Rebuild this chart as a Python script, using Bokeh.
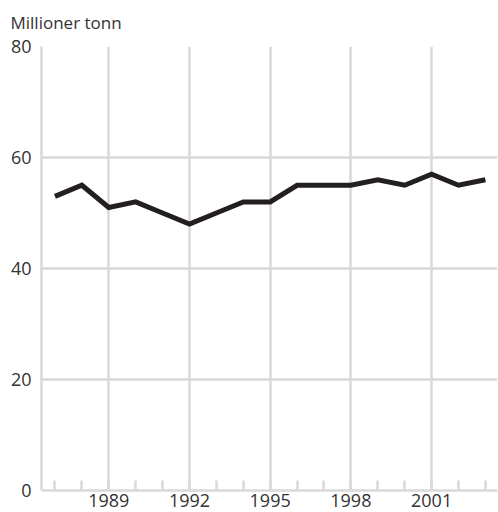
from bokeh.plotting import figure
from bokeh.models import FixedTicker, Range1d
from bokeh.embed import file_html
from bokeh.resources import INLINE

# ---- data ----
years = list(range(1987, 2004))
values = [53, 55, 51, 52, 50, 48, 50, 52, 52, 55, 55, 55, 56, 55, 57, 55, 56]
x_tick_years = [1989, 1992, 1995, 1998, 2001]
x_tick_labels = ["1989", "1992", "1995", "1998", "2001"]
y_ticks = [0, 20, 40, 60, 80]
y_title = "Millioner tonn"

GRID = "#d9d9d9"
TEXT = "#333333"
FONT = "Open Sans"

p = figure(width=498, height=512, output_backend="svg", toolbar_location=None,
           x_range=Range1d(1986.5, 2003.45), y_range=Range1d(0, 80),
           min_border_left=41, min_border_right=1, min_border_top=46,
           min_border_bottom=22)
p.outline_line_color = None
p.background_fill_color = "white"
p.border_fill_color = "white"

p.title.text = y_title
p.title.align = "left"
p.title.vertical_align = "top"
p.title.offset = -31
p.title.standoff = 21
p.title.text_font = FONT
p.title.text_font_size = "17px"
p.title.text_font_style = "normal"
p.title.text_color = TEXT

p.line(years, values, line_color="#231f20", line_width=5, line_join="miter")

# x axis: labels at every third year, minor ticks every year
p.xaxis.ticker = FixedTicker(ticks=x_tick_years, minor_ticks=years)
p.xaxis.major_label_overrides = {y: t for y, t in zip(x_tick_years, x_tick_labels)}
p.xaxis.major_tick_line_color = None
p.xaxis.major_tick_in = 0
p.xaxis.major_tick_out = 0
p.xaxis.minor_tick_in = 10
p.xaxis.minor_tick_out = 0
p.xaxis.minor_tick_line_color = GRID
p.xaxis.minor_tick_line_width = 2.5
p.xaxis.axis_line_color = GRID
p.xaxis.axis_line_width = 2.5
p.xaxis.major_label_standoff = 3
p.xaxis.major_label_text_font = FONT
p.xaxis.major_label_text_font_size = "18px"
p.xaxis.major_label_text_color = TEXT
p.xgrid.grid_line_color = GRID
p.xgrid.grid_line_width = 2.5

# y axis
p.yaxis.ticker = FixedTicker(ticks=y_ticks)
p.yaxis.major_tick_line_color = None
p.yaxis.major_tick_in = 0
p.yaxis.major_tick_out = 0
p.yaxis.minor_tick_line_color = None
p.yaxis.axis_line_color = GRID
p.yaxis.axis_line_width = 2.5
p.yaxis.major_label_standoff = 10
p.yaxis.major_label_text_font = FONT
p.yaxis.major_label_text_font_size = "18px"
p.yaxis.major_label_text_color = TEXT
p.ygrid.grid_line_color = GRID
p.ygrid.grid_line_width = 2.5

open("out.html", "w").write(file_html(p, INLINE))
